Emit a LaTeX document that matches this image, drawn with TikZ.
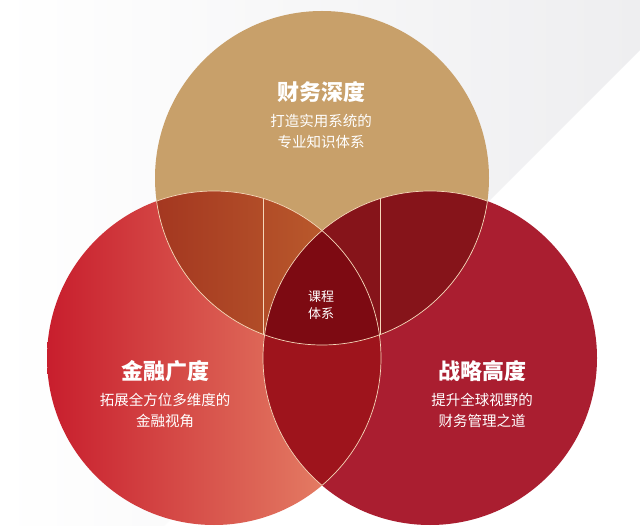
\documentclass[tikz,border=0pt]{standalone}
\usepackage{fontspec}
\setmainfont{Noto Sans CJK SC}
\usetikzlibrary{positioning}
\definecolor{bggray}{RGB}{238,238,240}
\definecolor{tan}{RGB}{200,160,106}
\definecolor{redleft}{RGB}{200,30,45}
\definecolor{salmon}{RGB}{233,142,110}
\definecolor{crimson}{RGB}{170,30,48}
\definecolor{rustdark}{RGB}{163,54,32}
\definecolor{rustlight}{RGB}{186,90,44}
\definecolor{wine}{RGB}{134,20,26}
\definecolor{lensred}{RGB}{158,20,28}
\definecolor{corered}{RGB}{125,10,18}
\definecolor{cream}{RGB}{245,215,185}
\newcommand\circrad{167}

\begin{document}
\begin{tikzpicture}[
    x=1pt, y=-1pt,
    title/.style={text=white, font=\fontsize{22}{26}\selectfont\bfseries, inner sep=0pt},
    desc/.style={text=white, font=\fontsize{14.5}{21.5}\selectfont, align=center, inner sep=0pt},
    edge/.style={draw=cream, line width=0.7pt}
]
    \useasboundingbox (0,0) rectangle (640,526);

    % Background
    \fill[white] (0,0) rectangle (640,526);
    \shade[left color=white, right color=bggray] (0,0) -- (640,0) -- (640,50) -- (164,526) -- (0,526) -- cycle;

    \coordinate (ctop) at (322,178);
    \coordinate (cleft) at (214,358);
    \coordinate (cright) at (430,358);

    % Circles
    \shade[left color=redleft, right color=salmon] (cleft) circle (\circrad);
    \fill[crimson] (cright) circle (\circrad);
    \fill[tan] (ctop) circle (\circrad);

    % Top and left
    \begin{scope}
        \clip (ctop) circle (\circrad);
        \clip (cleft) circle (\circrad);
        \shade[left color=rustdark, right color=rustlight] (150,180) rectangle (330,350);
        \draw[edge] (263,0) -- (263,526);
    \end{scope}

    % Top and right
    \begin{scope}
        \clip (ctop) circle (\circrad);
        \clip (cright) circle (\circrad);
        \fill[wine] (cright) circle (\circrad);
        \draw[edge] (380,0) -- (380,526);
    \end{scope}

    % Left and right
    \begin{scope}
        \clip (cleft) circle (\circrad);
        \fill[lensred] (cright) circle (\circrad);
    \end{scope}

    % Core
    \begin{scope}
        \clip (ctop) circle (\circrad);
        \clip (cleft) circle (\circrad);
        \fill[corered] (cright) circle (\circrad);
    \end{scope}

    % Outlines inside the other circles
    \begin{scope}
        \clip (cleft) circle (\circrad) (cright) circle (\circrad);
        \draw[edge] (ctop) circle (\circrad);
    \end{scope}
    \begin{scope}
        \clip (ctop) circle (\circrad) (cright) circle (\circrad);
        \draw[edge] (cleft) circle (\circrad);
    \end{scope}
    \begin{scope}
        \clip (ctop) circle (\circrad) (cleft) circle (\circrad);
        \draw[edge] (cright) circle (\circrad);
    \end{scope}

    % Labels
    \node[title] (ttop) at (321,92) {财务深度};
    \node[desc, below=11pt of ttop] (dtop) {打造实用系统的\\专业知识体系};

    \node[title] (tleft) at (165,371) {金融广度};
    \node[desc, below=11pt of tleft] (dleft) {拓展全方位多维度的\\金融视角};

    \node[title] (tright) at (482,371) {战略高度};
    \node[desc, below=11pt of tright] (dright) {提升全球视野的\\财务管理之道};

    \node[desc, font=\fontsize{13}{16.5}\selectfont] (core) at (321,305) {课程\\体系};
\end{tikzpicture}
\end{document}
